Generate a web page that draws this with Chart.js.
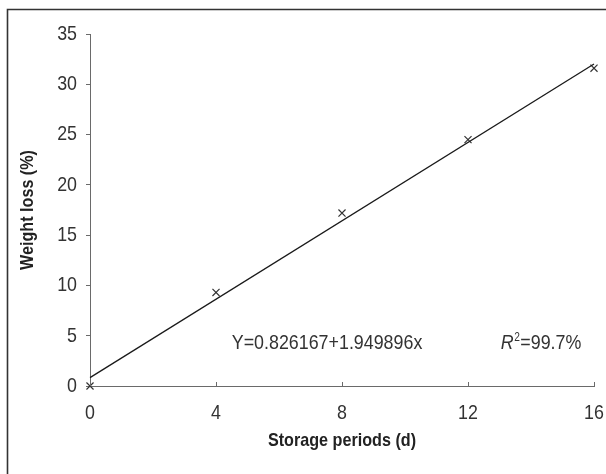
<!DOCTYPE html>
<html>
<head>
<meta charset="utf-8">
<script src="https://cdn.jsdelivr.net/npm/chart.js@4.4.1/dist/chart.umd.min.js"></script>
<style>
  html, body { margin: 0; padding: 0; background: #fff; }
  #wrap { width: 606px; height: 474px; }
</style>
</head>
<body>
<div id="wrap"><canvas id="lossChart" width="606" height="474"></canvas></div>
<script>
// data
const storageDays = [0, 4, 8, 12, 16];
const weightLoss = [0, 9.3, 17.2, 24.5, 31.6];
const fitDays = [0, 16];
const fitLoss = [0.83, 32.02];
const xTicks = [0, 4, 8, 12, 16];
const yTicks = [0, 5, 10, 15, 20, 25, 30, 35];
const xTitle = 'Storage periods (d)';
const yTitle = 'Weight loss (%)';
const equationText = 'Y=0.826167+1.949896x';
const r2Text = '=99.7%';

const FONT = '"Liberation Sans", Arial, sans-serif';
const SQUEEZE = 0.85; // the original uses a condensed face
const AXIS_COLOR = '#6a6a6a';
const TEXT_COLOR = '#333';

function squeezedText(ctx, text, x, y, font, align, rotate) {
  ctx.save();
  ctx.translate(x, y);
  if (rotate) ctx.rotate(-Math.PI / 2);
  ctx.scale(SQUEEZE, 1);
  ctx.font = font;
  ctx.textAlign = align;
  ctx.textBaseline = 'middle';
  ctx.fillText(text, 0, 0);
  const w = ctx.measureText(text).width * SQUEEZE;
  ctx.restore();
  return w;
}

// frame, inward x ticks, tick labels, titles and the annotation texts
const extrasPlugin = {
  id: 'extras',
  afterDraw(chart) {
    const ctx = chart.ctx;
    const xs = chart.scales.x;
    const ys = chart.scales.y;
    ctx.save();

    // outer frame (only the left and top edges are visible in the picture)
    ctx.strokeStyle = '#333';
    ctx.lineWidth = 1.6;
    ctx.beginPath();
    ctx.moveTo(7.5, 474);
    ctx.lineTo(7.5, 9.5);
    ctx.lineTo(606, 9.5);
    ctx.stroke();

    // x ticks point up into the plot
    ctx.strokeStyle = AXIS_COLOR;
    ctx.lineWidth = 1;
    xTicks.forEach(v => {
      const px = Math.round(xs.getPixelForValue(v)) + 0.5;
      ctx.beginPath();
      ctx.moveTo(px, ys.bottom);
      ctx.lineTo(px, ys.bottom - 4);
      ctx.stroke();
    });

    ctx.fillStyle = TEXT_COLOR;
    const tickFont = '21px ' + FONT;
    xTicks.forEach(v => {
      squeezedText(ctx, String(v), xs.getPixelForValue(v), ys.bottom + 27, tickFont, 'center');
    });
    yTicks.forEach(v => {
      squeezedText(ctx, String(v), ys.left + 77, ys.getPixelForValue(v), tickFont, 'right');
    });

    // axis titles
    ctx.fillStyle = '#222';
    const titleFont = 'bold 19px ' + FONT;
    squeezedText(ctx, xTitle, (xs.left + xs.right) / 2, 441, titleFont, 'center');
    squeezedText(ctx, yTitle, 28, (ys.top + ys.bottom) / 2, titleFont, 'center', true);

    // regression text
    ctx.fillStyle = TEXT_COLOR;
    const ty = ys.getPixelForValue(4.3);
    squeezedText(ctx, equationText, xs.getPixelForValue(4.5), ty, tickFont, 'left');

    let rx = xs.getPixelForValue(13.04);
    rx += squeezedText(ctx, 'R', rx, ty, 'italic 21px ' + FONT, 'left');
    rx += squeezedText(ctx, '2', rx + 0.5, ty - 5, '12px ' + FONT, 'left') + 1;
    squeezedText(ctx, r2Text, rx, ty, tickFont, 'left');

    ctx.restore();
  }
};

new Chart(document.getElementById('lossChart').getContext('2d'), {
  type: 'scatter',
  data: {
    datasets: [
      {
        label: 'Fit',
        type: 'line',
        data: fitDays.map((d, i) => ({ x: d, y: fitLoss[i] })),
        borderColor: '#1a1a1a',
        borderWidth: 1.3,
        pointRadius: 0,
        fill: false,
        tension: 0
      },
      {
        label: 'Weight loss',
        data: storageDays.map((d, i) => ({ x: d, y: weightLoss[i] })),
        pointStyle: 'crossRot',
        pointRadius: 5,
        borderColor: '#333',
        borderWidth: 1.2,
        backgroundColor: '#333'
      }
    ]
  },
  options: {
    responsive: false,
    animation: false,
    clip: false,
    layout: { padding: { top: 34, right: 12, left: 0, bottom: 0 } },
    plugins: {
      legend: { display: false },
      tooltip: { enabled: false }
    },
    scales: {
      x: {
        type: 'linear',
        min: 0,
        max: 16,
        afterBuildTicks: scale => { scale.ticks = xTicks.map(v => ({ value: v })); },
        afterFit: scale => { scale.height = 88; },
        grid: { display: true, drawOnChartArea: false, drawTicks: false, color: AXIS_COLOR },
        border: { display: true, color: AXIS_COLOR, width: 1 },
        ticks: { display: false }
      },
      y: {
        min: 0,
        max: 35,
        afterBuildTicks: scale => { scale.ticks = yTicks.map(v => ({ value: v })); },
        afterFit: scale => { scale.width = 90; },
        grid: { display: true, drawOnChartArea: false, drawTicks: true, tickLength: 4, color: AXIS_COLOR },
        border: { display: true, color: AXIS_COLOR, width: 1 },
        ticks: { display: false }
      }
    }
  },
  plugins: [extrasPlugin]
});
</script>
</body>
</html>
